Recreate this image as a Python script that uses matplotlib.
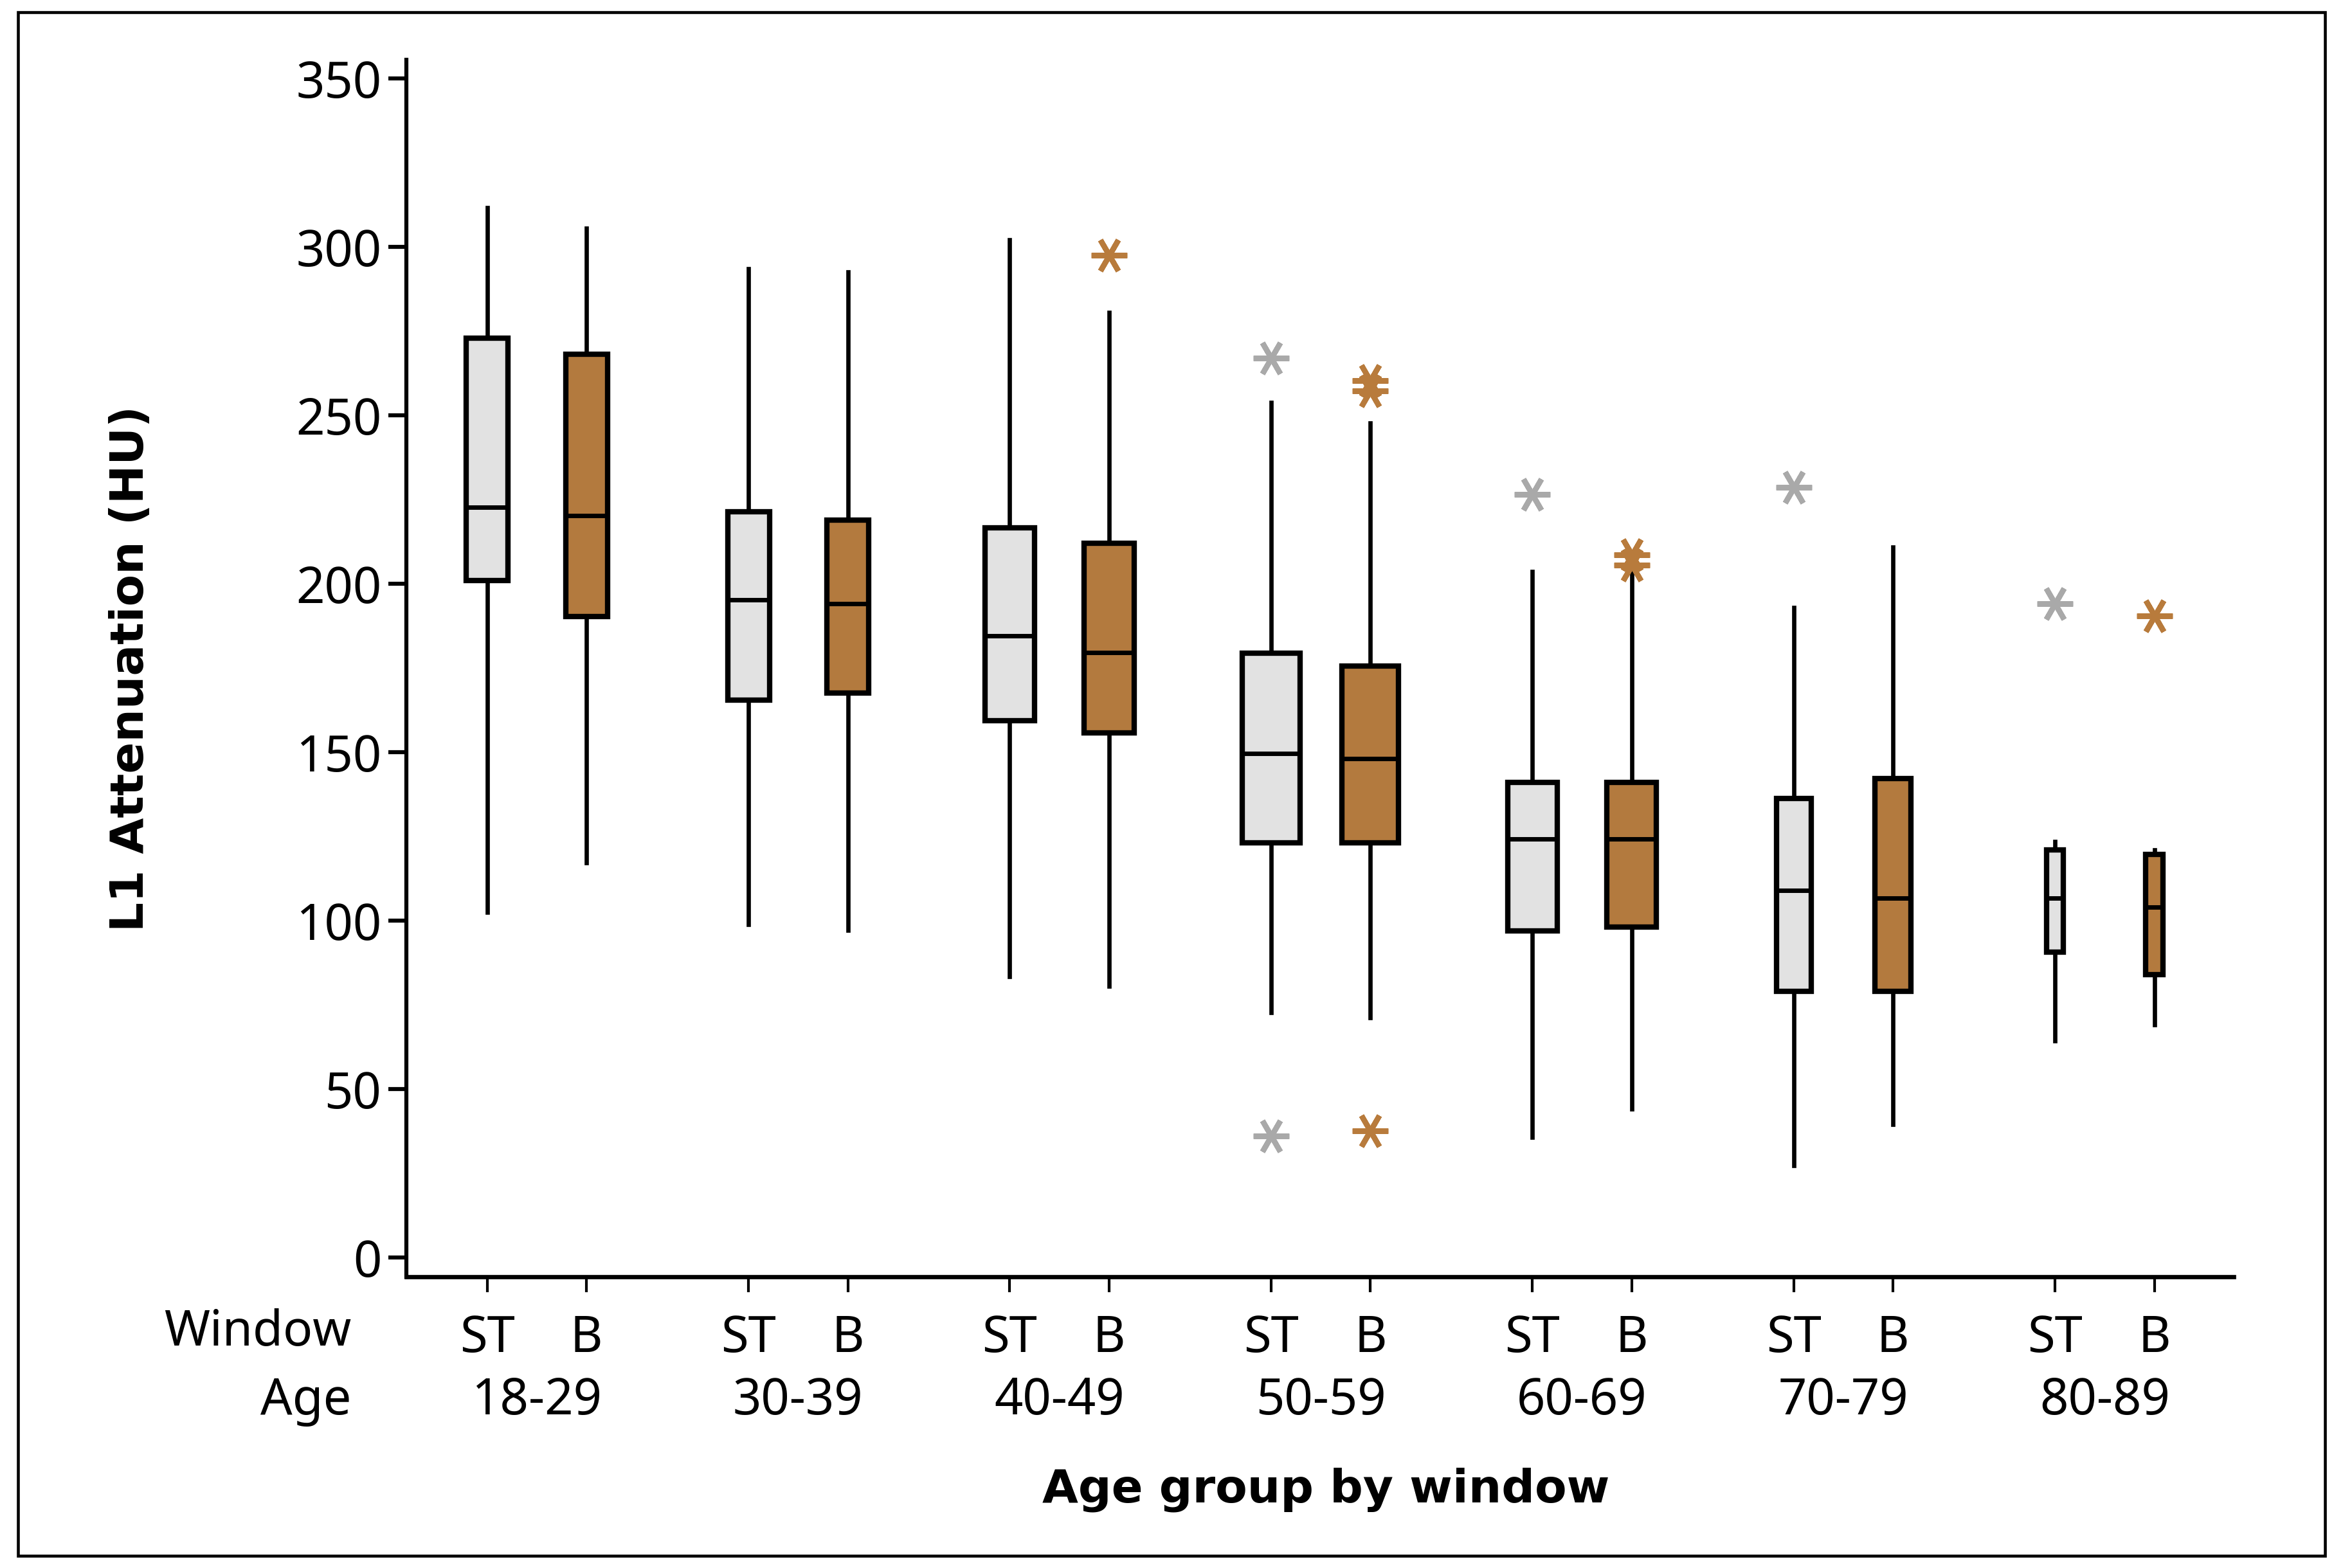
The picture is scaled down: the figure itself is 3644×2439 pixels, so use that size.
import matplotlib
matplotlib.use("Agg")
import matplotlib.pyplot as plt
from matplotlib.patches import Rectangle
import matplotlib.transforms as mtransforms

# ---------------- data ----------------
age_groups = ["18-29", "30-39", "40-49", "50-59", "60-69", "70-79", "80-89"]
windows = ["ST", "B"]

# ST (soft-tissue window) box statistics
st_whislo = [102.4, 98.9, 83.3, 72.6, 35.6, 27.2, 64.2]
st_q1     = [201.0, 165.4, 159.4, 123.1, 97.0, 79.0, 90.7]
st_med    = [222.6, 195.2, 184.6, 149.5, 124.3, 109.0, 106.6]
st_q3     = [272.9, 221.4, 216.6, 179.3, 141.0, 136.2, 120.9]
st_whishi = [311.5, 293.4, 302.0, 253.7, 203.5, 192.9, 123.4]
st_fliers = [[], [], [], [267.0, 36.0], [226.5], [228.5], [194.0]]
st_width  = [0.42, 0.42, 0.50, 0.58, 0.50, 0.35, 0.17]

# B (bone window) box statistics
b_whislo = [117.1, 97.1, 80.6, 71.2, 44.0, 39.5, 69.0]
b_q1     = [190.2, 167.6, 155.6, 123.1, 98.1, 79.0, 83.9]
b_med    = [220.1, 194.1, 179.6, 148.1, 124.3, 106.6, 104.0]
b_q3     = [268.1, 218.9, 211.9, 175.5, 141.0, 142.2, 119.7]
b_whishi = [305.4, 292.5, 280.4, 247.6, 204.0, 210.8, 121.0]
b_fliers = [[], [], [297.5], [260.2, 257.3, 37.5], [208.5, 205.5], [], [190.5]]
b_width  = [0.42, 0.42, 0.50, 0.57, 0.50, 0.36, 0.18]

yticks = [0, 50, 100, 150, 200, 250, 300, 350]

st_fill, b_fill = "#e2e2e2", "#b37a3e"
st_out, b_out = "#a9a9a9", "#b87b3c"

# ---------------- figure ----------------
fig = plt.figure(figsize=(36.44, 24.39), dpi=100)
ax = fig.add_axes([0.1735, 0.1856, 0.7799, 0.7761])

group_step = 2.63
stats, widths, positions, fills, outcols = [], [], [], [], []
for i in range(len(age_groups)):
    stats.append(dict(whislo=st_whislo[i], q1=st_q1[i], med=st_med[i], q3=st_q3[i],
                      whishi=st_whishi[i], fliers=st_fliers[i]))
    widths.append(st_width[i]); positions.append(i * group_step); fills.append(st_fill); outcols.append(st_out)
    stats.append(dict(whislo=b_whislo[i], q1=b_q1[i], med=b_med[i], q3=b_q3[i],
                      whishi=b_whishi[i], fliers=b_fliers[i]))
    widths.append(b_width[i]); positions.append(i * group_step + 1); fills.append(b_fill); outcols.append(b_out)

res = ax.bxp(stats, positions=positions, widths=widths, patch_artist=True,
             showcaps=False, manage_ticks=False,
             boxprops=dict(linewidth=6.0, edgecolor="black"),
             medianprops=dict(linewidth=5.0, color="black", solid_capstyle="butt"),
             whiskerprops=dict(linewidth=4.8, color="black"),
             flierprops=dict(marker=(6, 2, 90), markersize=40, markeredgewidth=6,
                             linestyle="none"))
for patch, fc in zip(res["boxes"], fills):
    patch.set_facecolor(fc)
    patch.set_zorder(3)
for ln in res["medians"]:
    ln.set_zorder(4)
for fl, c in zip(res["fliers"], outcols):
    fl.set_markeredgecolor(c)
    fl.set_markerfacecolor(c)

ax.set_xlim(-0.812, 17.58)
ax.set_ylim(-5.8, 355.4)

for s in ["top", "right"]:
    ax.spines[s].set_visible(False)
ax.spines["left"].set_linewidth(4.5)
ax.spines["bottom"].set_linewidth(4.8)

FONT = ["Noto Sans", "DejaVu Sans"]
ax.set_yticks(yticks)
ax.set_yticklabels([str(v) for v in yticks], fontsize=56, family=FONT)
ax.tick_params(axis="y", length=20, width=4.5, pad=8)

ax.set_xticks(positions)
ax.set_xticklabels(windows * len(age_groups), fontsize=56, family=FONT)
ax.tick_params(axis="x", length=17, width=3, pad=24)

trans = mtransforms.blended_transform_factory(ax.transData, ax.transAxes)
for i, g in enumerate(age_groups):
    ax.text(i * group_step + 0.5, -0.1023, g, transform=trans, ha="center", va="center",
            fontsize=56, family=FONT)
ax.text(-0.0303, -0.0456, "Window", transform=ax.transAxes, ha="right", va="center",
        fontsize=55, family=FONT)
ax.text(-0.0303, -0.1023, "Age", transform=ax.transAxes, ha="right", va="center",
        fontsize=56, family=FONT)

ax.text(0.503, -0.175, "Age group by window", transform=ax.transAxes, ha="center",
        va="center", fontsize=52, fontweight="bold", family="DejaVu Sans")
ax.text(-0.151, 0.5, "L1 Attenuation (HU)", transform=ax.transAxes, ha="center",
        va="center", rotation=90, fontsize=52, fontweight="bold", family="DejaVu Sans")

fig.patches.append(Rectangle((0.0077, 0.0077), 0.9846, 0.9846, transform=fig.transFigure,
                             fill=False, edgecolor="black", linewidth=3.3))

fig.savefig("out.png", dpi=100, facecolor="white")
